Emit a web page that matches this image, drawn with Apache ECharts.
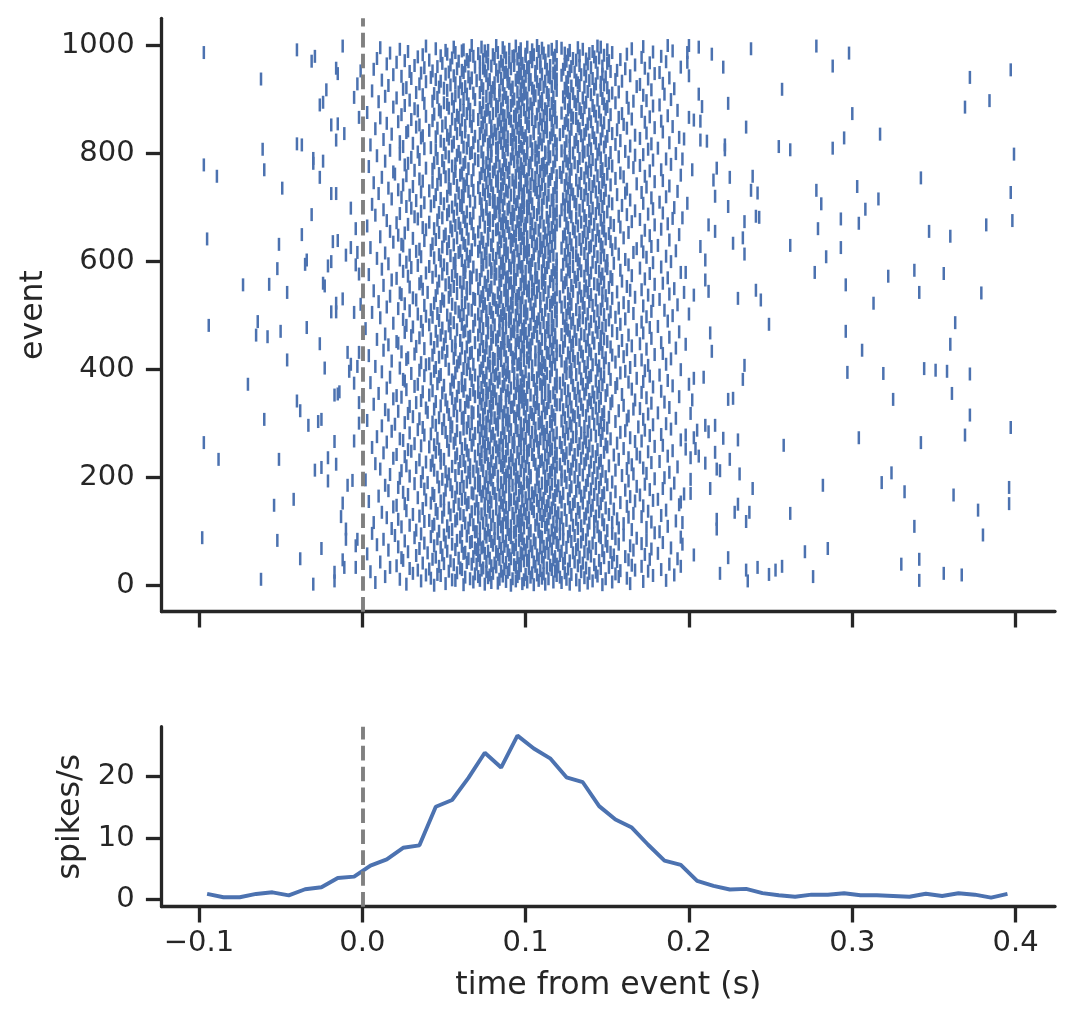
<!DOCTYPE html>
<html>
<head>
<meta charset="utf-8">
<script src="https://cdn.jsdelivr.net/npm/echarts@6.0.0/dist/echarts.min.js"></script>
<style>
  html, body { margin: 0; padding: 0; background: #fff; }
  #chart { width: 1072px; height: 1020px; }
</style>
</head>
<body>
<div id="chart"></div>
<script>
// axis ticks
var xTicks = [-0.1, 0, 0.1, 0.2, 0.3, 0.4];
var eventTicks = [0, 200, 400, 600, 800, 1000];
var rateTicks = [0, 10, 20];

// PSTH: bin centres (s) and firing rate (spikes/s)
var binCenters = [-0.095, -0.085, -0.075, -0.065, -0.055, -0.045, -0.035, -0.025, -0.015, -0.005,
  0.005, 0.015, 0.025, 0.035, 0.045, 0.055, 0.065, 0.075, 0.085, 0.095,
  0.105, 0.115, 0.125, 0.135, 0.145, 0.155, 0.165, 0.175, 0.185, 0.195,
  0.205, 0.215, 0.225, 0.235, 0.245, 0.255, 0.265, 0.275, 0.285, 0.295,
  0.305, 0.315, 0.325, 0.335, 0.345, 0.355, 0.365, 0.375, 0.385, 0.395];
var rates = [0.87, 0.33, 0.33, 0.87, 1.14, 0.65, 1.63, 1.96, 3.47, 3.7,
  5.5, 6.5, 8.4, 8.8, 15.1, 16.2, 19.8, 23.9, 21.5, 26.7,
  24.6, 23.0, 19.9, 19.1, 15.2, 13.0, 11.7, 8.9, 6.3, 5.6,
  3.0, 2.2, 1.6, 1.7, 1.0, 0.65, 0.42, 0.75, 0.75, 0.98,
  0.65, 0.65, 0.54, 0.42, 0.91, 0.54, 0.98, 0.75, 0.26, 0.87];

// spikes before the event: [ms, event]
var preSpikes = [[-97,986],[-62,937],[-40,991],[-31,970],[-29,979],[-12,998],[-16,957],[-15,947],[-22,917],[-26,889],
  [-24,894],[-5,903],[-3,928],[-1,952],[-19,852],[-15,854],[-11,836],[-16,824],[-2,866],[-61,807],
  [-40,817],[-37,815],[-97,778],[-89,757],[-60,769],[-30,790],[-30,781],[-24,785],[-26,755],[-49,735],
  [-19,725],[-16,725],[-7,698],[-31,686],[-4,660],[-37,649],[-95,641],[-51,631],[-18,636],[-15,638],
  [-7,625],[-10,611],[-3,616],[-4,593],[-2,576],[-35,594],[-34,602],[-21,591],[-19,599],[-52,586],
  [-73,556],[-57,557],[-46,542],[-24,559],[-23,554],[-12,530],[-16,522],[-19,506],[-16,506],[-5,505],
  [-1,520],[-64,488],[-94,481],[-65,463],[-58,460],[-50,470],[-34,477],[-26,447],[-9,431],[-2,431],
  [-7,409],[-8,396],[-3,405],[-46,417],[-23,402],[-70,372],[-5,374],[-17,352],[-15,354],[-14,358],
  [-40,341],[-38,323],[-2,338],[-60,307],[-33,296],[-27,303],[-25,307],[-2,300],[-97,264],[-88,233],
  [-51,233],[-17,266],[-5,267],[-21,236],[-16,224],[-25,218],[-29,213],[-21,193],[-9,185],[-6,194],
  [-42,159],[-54,148],[-12,152],[-13,127],[-10,104],[-10,85],[-4,73],[-3,85],[-98,88],[-52,83],
  [-25,68],[-38,49],[-12,47],[-11,33],[-4,33],[-62,11],[-30,2],[-17,24],[-17,8]];

// spikes in the late tail: [ms, event]
var postSpikes = [[200,999],[206,996],[199,986],[199,968],[200,943],[214,983],[221,959],[238,993],[278,998],[298,985],
  [288,961],[372,940],[397,954],[206,909],[208,886],[224,892],[257,918],[369,885],[384,897],[300,873],
  [200,866],[203,861],[207,859],[235,848],[317,835],[295,828],[197,826],[196,789],[207,824],[211,822],
  [222,815],[222,806],[255,812],[262,806],[288,809],[399,798],[202,769],[217,772],[215,750],[225,755],
  [239,757],[342,754],[238,731],[242,726],[216,720],[199,707],[278,731],[281,706],[303,738],[316,715],
  [308,696],[397,727],[224,701],[196,680],[212,667],[216,655],[234,673],[241,683],[243,681],[279,660],
  [293,678],[304,670],[347,655],[360,646],[382,667],[398,675],[207,627],[210,602],[227,633],[233,643],
  [234,613],[262,629],[284,608],[293,625],[198,579],[210,565],[212,544],[197,542],[203,537],[230,531],
  [241,546],[244,528],[277,579],[296,556],[322,572],[338,583],[356,577],[341,542],[379,541],[313,522],
  [200,502],[249,483],[363,486],[296,470],[213,467],[214,433],[198,446],[306,435],[360,446],[234,407],
  [233,381],[203,383],[200,372],[209,385],[297,394],[319,392],[344,401],[351,398],[358,396],[372,391],
  [361,355],[325,344],[202,343],[201,318],[224,344],[227,346],[372,315],[397,292],[369,278],[342,264],
  [304,273],[258,259],[210,296],[212,284],[216,296],[205,287],[198,278],[203,273],[204,253],[198,252],
  [201,236],[206,239],[210,226],[216,246],[221,272],[230,269],[225,233],[217,215],[219,212],[231,206],
  [201,196],[197,169],[201,170],[213,179],[239,179],[282,185],[318,190],[324,208],[332,173],[362,167],
  [396,181],[396,151],[377,139],[380,93],[338,109],[262,133],[228,135],[230,150],[237,135],[235,118],
  [217,122],[217,104],[196,116],[195,154],[196,76],[203,56],[224,51],[195,35],[219,22],[235,28],
  [236,8],[242,33],[249,20],[253,28],[257,35],[271,62],[285,68],[276,16],[330,39],[341,48],
  [341,9],[356,22],[367,19]];

// response window: spike times (ms) per event, event 0 first
var coreTrains = [
  [44,91,133],[62,105,147],[27,75,112,127],[51,98,164],[83,138],[8,79,122],[68,101,117,153],[88,172],[36,94,141],[57,72,108,186],
  [55,99,131],[23,84,125],[66,92,114,149],[42,110,162],[77,136],[63,103,121],[14,71,95,157],[86,144],[48,119,178],[39,78,107,191],
  [46,100,128],[69,111,155],[31,80,96,139],[58,104,124],[89,143],[5,76,134],[53,85,118,175],[109,158],[34,73,167],[61,90,116,183],
  [41,87,126],[29,102,146],[60,74,113,137],[17,94,151],[82,120],[47,106,171],[21,79,97,132],[115,165],[56,93,142],[67,70,119,188],
  [50,96,123],[37,81,135],[64,88,111,153],[11,105,130],[76,156],[54,99,127],[25,72,101,145],[117,163],[43,84,176],[65,91,108,193],
  [59,78,124],[24,95,148],[45,86,110,133],[68,118,161],[102,140],[33,71,121],[49,90,107,154],[83,173],[3,98,138],[62,75,114,181],
  [40,97,129],[63,112,152],[28,82,104,136],[52,77,122],[89,147],[16,100,166],[57,70,93,131],[116,177],[35,85,143],[69,73,109,189],
  [48,92,125],[22,74,139],[61,87,111,150],[44,103,164],[80,120],[9,94,132],[55,71,99,157],[113,171],[38,106,141],[66,84,119,184],
  [51,101,134],[67,79,128],[26,88,115,149],[58,96,174],[105,137],[13,72,123],[46,81,98,155],[117,168],[32,91,146],[60,76,110,195],
  [42,86,126],[64,109,145],[20,78,97,130],[50,114,160],[90,135],[36,75,121],[6,83,102,153],[118,179],[53,93,142],[69,70,108,182],
  [47,94,127],[61,103,150],[33,77,116,138],[55,89,165],[108,123],[18,81,132],[65,72,99,157],[112,174],[24,85,144],[43,96,119,187],
  [52,91,134],[29,106,129],[68,79,113,148],[44,97,121],[86,160],[63,74,139],[7,88,101,153],[117,177],[38,110,142],[57,83,95,192],
  [41,76,125],[66,98,147],[22,84,107,131],[58,114,156],[93,136],[15,102,122],[49,71,89,163],[119,171],[35,80,143],[62,96,111,183],
  [54,87,128],[31,109,151],[60,73,100,137],[46,92,166],[115,120],[12,78,133],[67,84,105,145],[97,175],[27,112,140],[50,75,118,186],
  [45,99,124],[69,82,154],[37,71,104,132],[53,116,149],[88,127],[19,94,138],[56,77,108,162],[113,172],[21,86,141],[64,90,101,194],
  [59,103,129],[26,75,146],[42,95,110,135],[65,85,158],[79,122],[4,114,130],[48,70,98,167],[107,178],[39,91,144],[61,82,117,181],
  [50,93,126],[63,111,152],[34,78,100,139],[57,87,121],[105,164],[10,73,134],[44,96,118,147],[84,170],[28,109,142],[68,76,102,189],
  [43,81,123],[67,104,148],[25,90,115,136],[55,74,155],[98,131],[16,119,127],[51,86,106,161],[72,176],[38,94,140],[60,80,112,184],
  [58,97,133],[22,77,145],[47,88,108,128],[62,113,168],[71,120],[14,92,137],[54,83,102,150],[116,173],[32,99,143],[69,75,110,191],
  [40,85,125],[64,101,153],[36,72,96,132],[52,118,163],[90,138],[2,79,122],[49,107,114,146],[94,179],[23,87,141],[66,78,103,185],
  [46,95,130],[61,76,149],[29,83,112,124],[57,103,159],[88,135],[17,99,127],[53,71,107,166],[118,174],[37,91,144],[65,80,115,188],
  [51,89,122],[68,108,147],[24,74,97,139],[44,116,155],[81,133],[11,93,128],[59,78,102,162],[111,172],[33,86,142],[63,70,119,193],
  [55,100,126],[27,85,151],[42,73,113,131],[66,94,165],[106,121],[8,77,136],[48,90,117,145],[82,177],[39,98,140],[60,87,109,182],
  [43,79,129],[62,105,146],[35,92,110,137],[50,72,157],[96,124],[19,114,134],[57,84,101,163],[75,170],[26,118,143],[69,88,99,187],
  [48,91,123],[65,112,154],[21,76,104,130],[58,86,168],[119,138],[13,80,125],[45,95,108,148],[73,175],[30,101,141],[64,83,115,190],
  [53,102,132],[28,71,144],[47,89,116,127],[61,97,160],[78,135],[6,108,122],[41,82,93,150],[113,179],[36,75,139],[67,86,105,184],
  [44,84,128],[63,99,149],[32,77,111,133],[56,118,156],[92,121],[15,74,137],[52,88,103,167],[107,171],[25,96,146],[68,81,114,195],
  [57,93,124],[23,109,152],[46,72,100,136],[60,85,164],[115,129],[9,90,131],[54,79,106,143],[97,176],[38,117,140],[66,76,112,183],
  [42,98,126],[69,80,147],[29,87,119,134],[51,104,158],[75,123],[18,111,138],[58,73,95,161],[83,173],[34,91,145],[62,102,110,189],
  [49,86,131],[64,106,150],[37,94,113,125],[55,71,169],[101,136],[12,78,128],[45,89,116,148],[99,178],[20,82,142],[67,74,108,186],
  [54,97,127],[26,83,146],[43,76,109,139],[65,115,155],[90,122],[3,102,133],[50,72,88,162],[118,172],[35,105,144],[61,79,94,192],
  [47,81,124],[62,110,151],[31,93,100,130],[58,77,163],[86,137],[16,117,129],[53,74,104,147],[96,175],[28,89,141],[68,84,112,181],
  [40,103,132],[67,87,148],[22,71,116,126],[56,95,157],[79,135],[14,108,123],[44,83,99,166],[113,170],[39,75,143],[63,91,106,188],
  [52,92,128],[29,78,145],[48,85,111,138],[60,101,160],[119,121],[7,73,134],[57,96,107,152],[80,177],[33,114,140],[65,88,98,185],
  [45,84,125],[64,105,153],[36,76,118,131],[51,93,167],[100,139],[19,82,127],[55,72,110,146],[90,174],[24,97,142],[69,79,115,194],
  [58,99,133],[21,88,149],[41,74,103,122],[66,112,159],[85,136],[10,94,130],[49,77,117,144],[71,171],[37,107,141],[62,81,96,183],
  [43,89,126],[68,114,150],[27,80,98,137],[54,106,165],[76,124],[15,91,132],[59,73,101,155],[119,178],[32,86,145],[61,95,110,190],
  [50,78,129],[63,97,147],[34,87,109,135],[46,118,156],[93,121],[5,102,138],[56,71,83,163],[112,172],[26,99,143],[67,75,105,187],
  [55,95,123],[25,111,152],[42,79,102,134],[61,84,168],[107,128],[17,74,139],[47,90,115,148],[98,176],[38,81,140],[69,88,119,182],
  [48,104,131],[66,82,146],[30,93,113,125],[57,76,158],[89,137],[12,100,127],[44,86,108,161],[72,173],[35,116,144],[64,97,110,195],
  [53,87,128],[62,109,151],[23,73,97,133],[45,116,164],[80,124],[8,92,136],[58,78,104,145],[112,175],[39,95,141],[68,83,118,186],
  [41,96,125],[65,77,148],[36,89,111,138],[59,102,155],[74,130],[18,115,122],[51,85,99,167],[106,171],[27,81,143],[60,93,108,189],
  [56,80,132],[28,101,149],[47,92,117,127],[63,88,160],[110,135],[4,75,129],[43,71,97,153],[119,179],[32,103,140],[66,84,114,184],
  [49,94,126],[67,113,147],[24,78,106,134],[52,83,157],[99,121],[13,87,139],[57,72,91,162],[116,174],[38,109,145],[61,76,102,192],
  [44,85,123],[64,98,152],[33,74,108,137],[55,119,165],[90,128],[16,103,133],[50,79,94,146],[112,170],[22,86,142],[69,96,117,183],
  [57,101,129],[21,89,150],[46,76,115,124],[60,95,159],[82,138],[9,110,131],[42,73,104,148],[87,177],[35,118,141],[65,80,99,188],
  [51,83,127],[66,107,146],[30,97,112,136],[48,71,163],[118,122],[14,91,134],[54,86,100,156],[77,172],[26,105,144],[62,93,114,194],
  [45,92,130],[63,79,153],[37,84,102,126],[58,116,168],[98,139],[2,74,125],[49,88,109,147],[113,176],[31,95,143],[68,72,106,181],
  [53,99,124],[27,117,149],[41,81,93,132],[61,103,158],[72,137],[19,86,128],[56,77,111,145],[107,171],[36,90,140],[64,84,119,187],
  [47,76,133],[69,96,151],[25,88,114,129],[54,108,161],[91,123],[11,100,135],[43,80,97,155],[116,174],[39,73,142],[60,85,105,190],
  [52,94,125],[62,110,148],[34,71,101,138],[46,87,166],[104,127],[6,79,133],[59,90,118,152],[76,177],[29,99,144],[67,83,112,185],
  [42,86,131],[65,105,146],[22,78,95,126],[57,119,157],[82,136],[15,92,122],[48,74,109,163],[100,172],[38,115,141],[61,89,97,193],
  [55,103,128],[26,75,150],[44,91,113,135],[63,97,160],[116,124],[10,84,139],[50,72,106,147],[88,178],[33,81,143],[69,94,117,182],
  [49,80,127],[68,109,153],[31,98,118,132],[53,85,167],[73,121],[17,102,134],[45,89,95,149],[111,175],[24,77,140],[64,92,104,188],
  [58,96,126],[23,83,147],[40,74,107,138],[61,114,156],[92,129],[7,101,136],[54,78,87,164],[119,171],[37,105,145],[66,71,99,191],
  [46,88,133],[64,112,151],[29,79,102,123],[56,93,162],[108,137],[13,76,128],[51,84,117,144],[97,179],[35,100,142],[62,90,110,184],
  [53,91,124],[60,75,148],[36,99,115,131],[47,104,159],[85,139],[18,111,125],[58,72,94,153],[81,173],[21,119,146],[67,88,106,187],
  [43,107,130],[66,89,152],[28,77,98,136],[55,116,165],[70,122],[4,93,132],[49,82,103,147],[112,176],[39,86,140],[63,79,118,195],
  [57,84,127],[25,100,145],[45,73,110,134],[62,95,158],[117,126],[12,87,138],[52,79,106,150],[91,170],[30,113,143],[68,97,102,183],
  [41,98,129],[63,81,149],[34,90,119,137],[50,74,163],[103,123],[16,108,133],[56,85,96,154],[114,178],[27,76,141],[65,93,111,189],
  [48,86,125],[61,104,150],[23,78,111,132],[57,96,161],[119,138],[9,82,127],[44,73,101,146],[92,174],[36,108,144],[66,88,115,186],
  [54,93,131],[29,117,148],[47,80,99,124],[64,105,157],[75,136],[14,89,129],[59,84,112,166],[100,172],[33,71,142],[60,95,109,192],
  [42,102,126],[67,87,153],[35,76,114,134],[52,97,168],[83,122],[5,110,139],[49,72,91,147],[116,177],[25,106,140],[63,79,101,181],
  [56,79,128],[24,94,146],[43,88,107,137],[62,118,155],[99,125],[19,74,131],[53,85,104,152],[111,171],[38,92,143],[69,77,113,188],
  [45,91,133],[65,109,149],[31,73,98,127],[58,84,160],[115,135],[11,101,123],[50,80,93,145],[87,176],[22,117,141],[61,96,105,194],
  [51,97,124],[68,77,151],[26,90,112,138],[47,103,163],[71,130],[17,86,136],[55,94,118,148],[108,173],[39,82,144],[64,99,114,183],
  [44,83,129],[60,106,147],[37,96,116,126],[54,75,158],[89,139],[3,111,132],[57,78,100,154],[119,179],[28,92,142],[67,85,104,187],
  [59,100,125],[21,88,152],[41,72,109,134],[63,95,165],[114,121],[15,80,137],[46,86,97,146],[77,170],[34,103,140],[66,91,117,190],
  [49,78,131],[62,113,148],[32,87,101,128],[56,98,157],[84,136],[8,74,124],[52,93,107,162],[118,175],[23,81,143],[68,96,110,184],
  [47,105,127],[64,82,150],[36,92,115,139],[53,119,167],[73,133],[13,97,122],[58,76,89,145],[102,178],[30,108,141],[61,84,99,191],
  [55,90,126],[27,76,147],[42,101,117,135],[60,86,159],[110,124],[6,94,131],[50,73,104,153],[83,172],[38,98,144],[69,80,113,182],
  [44,95,130],[66,108,151],[33,81,99,127],[57,116,164],[78,138],[18,87,123],[48,72,111,148],[93,177],[24,103,140],[62,85,119,186],
  [52,84,125],[61,102,146],[29,91,114,136],[45,75,156],[98,129],[10,117,134],[59,80,96,161],[107,171],[36,89,143],[65,77,109,193],
  [41,99,132],[68,88,149],[22,74,106,128],[54,112,162],[85,137],[16,96,126],[53,71,118,145],[101,174],[31,83,141],[63,93,105,188],
  [58,79,124],[25,97,152],[46,86,110,139],[62,103,168],[119,133],[7,76,127],[43,90,94,147],[114,179],[37,82,142],[67,100,108,184],
  [48,92,131],[64,115,148],[35,78,101,125],[56,87,155],[72,136],[12,106,122],[51,83,97,160],[111,173],[27,119,144],[60,75,94,195],
  [53,104,127],[20,85,150],[47,73,116,134],[61,96,158],[89,121],[19,80,138],[57,99,109,146],[77,176],[32,112,140],[68,86,102,183],
  [43,81,128],[65,98,147],[39,90,113,137],[50,107,166],[117,123],[4,74,132],[55,84,95,153],[102,170],[26,88,143],[62,78,110,189],
  [57,97,126],[28,111,151],[44,76,103,130],[63,82,163],[93,139],[14,118,125],[49,71,87,149],[106,178],[35,100,141],[69,91,114,186],
  [46,87,133],[60,74,146],[30,95,108,127],[53,115,157],[79,135],[9,99,124],[58,83,104,167],[119,172],[23,92,144],[66,77,112,192],
  [51,101,129],[67,86,152],[34,73,112,136],[59,96,161],[107,122],[17,79,138],[45,89,117,145],[94,175],[38,104,140],[64,82,98,181],
  [42,83,124],[62,106,148],[25,97,114,132],[55,71,164],[88,127],[5,110,135],[50,77,92,155],[119,177],[31,85,143],[68,101,108,188],
  [56,94,130],[23,78,149],[48,87,103,125],[65,118,158],[74,139],[13,91,131],[53,80,109,146],[99,170],[36,115,142],[61,84,96,194],
  [45,89,127],[69,111,150],[37,75,100,134],[52,93,167],[116,121],[18,82,136],[58,72,105,153],[86,174],[27,98,141],[63,79,113,184],
  [54,105,123],[28,92,147],[41,81,117,137],[60,76,156],[97,128],[8,87,133],[46,95,108,162],[112,179],[33,73,144],[67,85,102,190],
  [49,79,132],[63,97,151],[35,88,110,126],[57,113,160],[83,138],[15,101,124],[51,74,94,148],[119,173],[22,106,140],[66,91,116,183],
  [43,96,125],[61,84,146],[30,71,104,135],[55,109,165],[90,131],[11,118,129],[59,78,100,157],[75,176],[39,93,143],[68,87,111,187],
  [58,86,128],[24,115,152],[44,94,107,139],[64,80,159],[102,122],[3,73,134],[48,89,97,145],[113,171],[34,82,142],[62,76,117,193],
  [47,99,126],[66,77,149],[32,85,112,133],[53,104,163],[72,136],[19,95,127],[56,83,118,150],[108,178],[26,91,141],[60,101,110,182],
  [52,82,131],[65,103,148],[38,96,116,124],[50,74,155],[89,137],[10,109,130],[43,79,92,166],[114,174],[29,86,144],[69,98,105,189],
  [55,93,127],[62,110,147],[21,78,101,135],[46,88,162],[117,123],[14,76,132],[57,97,106,151],[84,172],[37,114,140],[64,81,99,185],
  [44,87,129],[68,100,153],[33,72,113,126],[59,95,157],[79,138],[6,105,125],[52,84,119,146],[91,177],[25,108,142],[61,74,97,191],
  [50,104,124],[27,80,150],[47,92,111,136],[63,116,168],[99,128],[16,73,133],[54,86,102,148],[109,170],[35,77,143],[66,90,118,184],
  [57,81,132],[60,98,146],[39,89,107,125],[48,112,159],[70,139],[12,94,131],[45,78,103,155],[119,175],[30,85,141],[67,96,115,188],
  [42,95,126],[65,114,149],[24,83,100,137],[56,76,164],[106,122],[19,89,134],[51,72,110,147],[97,179],[36,117,144],[62,87,102,182],
  [53,88,130],[29,106,152],[43,75,118,127],[61,99,156],[82,136],[7,113,123],[58,91,96,161],[74,173],[38,101,140],[69,84,109,195],
  [46,102,128],[63,79,147],[32,93,115,133],[54,86,167],[119,124],[15,77,138],[49,98,107,150],[112,176],[21,90,143],[65,72,104,186],
  [59,85,125],[26,109,151],[41,97,112,131],[64,74,158],[95,137],[9,81,129],[55,88,117,145],[103,171],[34,76,142],[68,92,100,183],
  [48,93,133],[66,118,148],[37,80,105,126],[52,100,162],[71,139],[17,111,124],[57,83,96,153],[87,178],[28,108,141],[61,75,114,190],
  [51,77,127],[62,104,150],[23,90,116,135],[45,97,165],[110,122],[11,86,132],[56,73,101,146],[119,172],[39,94,144],[67,82,107,187]
];

var rasterPoints = [];
preSpikes.forEach(function (s) { rasterPoints.push([s[0] / 1000, s[1]]); });
coreTrains.forEach(function (train, ev) {
  train.forEach(function (ms) { rasterPoints.push([ms / 1000, ev]); });
});
postSpikes.forEach(function (s) { rasterPoints.push([s[0] / 1000, s[1]]); });

var psth = binCenters.map(function (t, i) { return [t, rates[i]]; });

var ink = '#262626';
var blue = '#4c72b0';
var font = 'DejaVu Sans';

function fmtTime(v) {
  return v < 0 ? '\u2212' + (-v).toFixed(1) : v.toFixed(1);
}
function fmtPlain(v) {
  return String(v);
}

var axisLine = { show: true, onZero: false, lineStyle: { color: ink, width: 3.3 } };
var tickStyle = { color: ink, width: 3.3 };

var zeroLine = {
  silent: true,
  symbol: ['none', 'none'],
  label: { show: false },
  lineStyle: { color: '#808080', width: 3.9, type: [14.6, 6.3], opacity: 1 },
  emphasis: { disabled: true },
  data: [{ xAxis: 0 }]
};

var myChart = echarts.init(document.getElementById('chart'), null, { renderer: 'canvas' });
var option = {
  animation: false,
  backgroundColor: '#ffffff',
  grid: [
    { left: 161.7, top: 18.3, width: 893.3, height: 593.4, containLabel: false, outerBoundsMode: 'none' },
    { left: 161.7, top: 726.7, width: 893.3, height: 180, containLabel: false, outerBoundsMode: 'none' }
  ],
  xAxis: [{
    gridIndex: 0,
    type: 'value',
    min: -0.1228,
    max: 0.4241,
    axisLine: axisLine,
    axisTick: { show: true, length: 15.8, lineStyle: tickStyle, customValues: xTicks },
    axisLabel: { show: false, customValues: xTicks },
    splitLine: { show: false }
  }, {
    gridIndex: 1,
    type: 'value',
    min: -0.1228,
    max: 0.4241,
    axisLine: axisLine,
    axisTick: { show: true, length: 15.8, lineStyle: tickStyle, customValues: xTicks },
    axisLabel: {
      show: true, customValues: xTicks, formatter: fmtTime,
      color: ink, fontFamily: font, fontSize: 29, margin: 22
    },
    splitLine: { show: false },
    name: 'time from event (s)',
    nameLocation: 'middle',
    nameGap: 63,
    nameTextStyle: { color: ink, fontFamily: font, fontSize: 31.6 }
  }],
  yAxis: [{
    gridIndex: 0,
    type: 'value',
    min: -49,
    max: 1049.4,
    axisLine: axisLine,
    axisTick: { show: true, length: 15.8, lineStyle: tickStyle, customValues: eventTicks },
    axisLabel: {
      show: true, customValues: eventTicks, formatter: fmtPlain,
      color: ink, fontFamily: font, fontSize: 29, margin: 27
    },
    splitLine: { show: false },
    name: 'event',
    nameLocation: 'middle',
    nameRotate: 90,
    nameGap: 96,
    nameTextStyle: { color: ink, fontFamily: font, fontSize: 31.6 }
  }, {
    gridIndex: 1,
    type: 'value',
    min: -1.21,
    max: 28.16,
    axisLine: axisLine,
    axisTick: { show: true, length: 15.8, lineStyle: tickStyle, customValues: rateTicks },
    axisLabel: {
      show: true, customValues: rateTicks, formatter: fmtPlain,
      color: ink, fontFamily: font, fontSize: 29, margin: 27
    },
    splitLine: { show: false },
    name: 'spikes/s',
    nameLocation: 'middle',
    nameRotate: 90,
    nameGap: 75,
    nameTextStyle: { color: ink, fontFamily: font, fontSize: 31.6 }
  }],
  series: [{
    type: 'scatter',
    xAxisIndex: 0,
    yAxisIndex: 0,
    data: rasterPoints,
    symbol: 'rect',
    symbolSize: [2.5, 13],
    itemStyle: { color: blue, opacity: 1 },
    large: false,
    progressive: 0,
    silent: true,
    markLine: zeroLine
  }, {
    type: 'line',
    xAxisIndex: 1,
    yAxisIndex: 1,
    data: psth,
    showSymbol: false,
    symbol: 'none',
    lineStyle: { color: blue, width: 3.9 },
    silent: true,
    markLine: zeroLine
  }]
};
myChart.setOption(option);
window.onresize = myChart.resize;
</script>
</body>
</html>
